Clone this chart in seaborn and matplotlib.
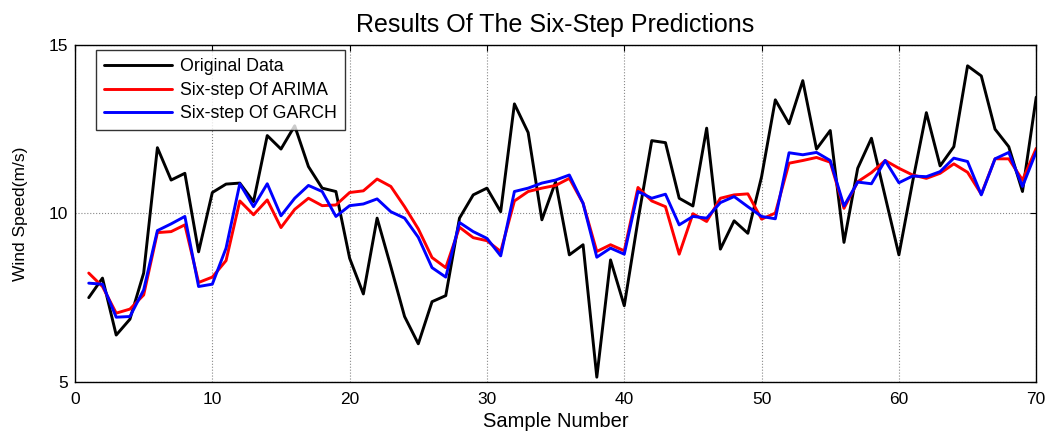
import matplotlib
matplotlib.use("Agg")
import matplotlib.pyplot as plt
import seaborn as sns
import pandas as pd
import numpy as np

samples = list(range(1, 71))
original = [7.50, 8.08, 6.39, 6.86, 8.23, 11.95, 10.99, 11.19, 8.86, 10.62,
            10.87, 10.90, 10.35, 12.31, 11.91, 12.60, 11.39, 10.75, 10.65, 8.67,
            7.61, 9.86, 8.42, 6.94, 6.13, 7.38, 7.56, 9.86, 10.55, 10.75,
            10.05, 13.25, 12.40, 9.81, 10.94, 8.77, 9.07, 5.14, 8.62, 7.26,
            9.80, 12.16, 12.10, 10.45, 10.22, 12.53, 8.94, 9.78, 9.41, 11.09,
            13.37, 12.66, 13.94, 11.91, 12.46, 9.14, 11.34, 12.23, 10.50, 8.77,
            10.94, 12.99, 11.41, 11.98, 14.38, 14.08, 12.50, 11.98, 10.65, 13.45]
arima = [8.23, 7.83, 7.04, 7.16, 7.58, 9.43, 9.46, 9.66, 7.95, 8.11,
         8.60, 10.37, 9.96, 10.40, 9.58, 10.12, 10.45, 10.23, 10.25, 10.62,
         10.67, 11.02, 10.80, 10.20, 9.54, 8.69, 8.39, 9.59, 9.28, 9.19,
         8.87, 10.37, 10.65, 10.75, 10.83, 11.04, 10.30, 8.87, 9.07, 8.89,
         10.77, 10.37, 10.20, 8.79, 9.99, 9.76, 10.45, 10.55, 10.58, 9.83,
         10.01, 11.49, 11.57, 11.66, 11.52, 10.15, 10.94, 11.21, 11.57, 11.34,
         11.14, 11.04, 11.19, 11.47, 11.22, 10.57, 11.62, 11.62, 10.99, 11.93]
garch = [7.93, 7.90, 6.92, 6.94, 7.73, 9.49, 9.69, 9.91, 7.83, 7.90,
         8.97, 10.88, 10.20, 10.88, 9.93, 10.45, 10.83, 10.65, 9.91, 10.23,
         10.28, 10.43, 10.05, 9.86, 9.29, 8.39, 8.11, 9.73, 9.46, 9.26,
         8.74, 10.65, 10.75, 10.90, 10.99, 11.14, 10.30, 8.70, 8.97, 8.79,
         10.65, 10.45, 10.57, 9.66, 9.91, 9.86, 10.32, 10.50, 10.20, 9.91,
         9.84, 11.80, 11.74, 11.81, 11.57, 10.22, 10.93, 10.88, 11.57, 10.91,
         11.11, 11.09, 11.24, 11.64, 11.54, 10.55, 11.62, 11.81, 10.80, 11.83]

series_names = ["Original Data", "Six-step Of ARIMA", "Six-step Of GARCH"]
colors = ["#000000", "#ff0000", "#0000ff"]
x_ticks = [0, 10, 20, 30, 40, 50, 60, 70]
y_ticks = [5, 10, 15]

df = pd.DataFrame({
    "Sample": samples * 3,
    "Value": original + arima + garch,
    "Series": [series_names[0]] * 70 + [series_names[1]] * 70 + [series_names[2]] * 70,
})

sns.set_style("white")
plt.rcParams["font.family"] = ["Liberation Sans", "DejaVu Sans"]
plt.rcParams["text.color"] = "black"
plt.rcParams["axes.labelcolor"] = "black"
plt.rcParams["xtick.color"] = "black"
plt.rcParams["ytick.color"] = "black"

fig = plt.figure(figsize=(10.52, 4.32), dpi=100)
ax = fig.add_axes([0.0713, 0.116, 0.9137, 0.780])

sns.lineplot(data=df, x="Sample", y="Value", hue="Series",
             palette=dict(zip(series_names, colors)), linewidth=2.1,
             ax=ax, legend=True)

ax.set_xlim(0, 70)
ax.set_ylim(5, 15)
ax.set_xticks(x_ticks)
ax.set_yticks(y_ticks)
ax.tick_params(direction="in", length=4, labelsize=12.5, top=True, right=True,
               colors="black")
ax.tick_params(axis="x", pad=7)
ax.tick_params(axis="y", pad=5)
for sp in ax.spines.values():
    sp.set_visible(True)
    sp.set_color("black")
    sp.set_linewidth(1.0)

ax.grid(True, color="#888888", linestyle=":", linewidth=0.8)

ax.set_title("Results Of The Six-Step Predictions", fontsize=18, pad=9)
ax.set_xlabel("Sample Number", fontsize=14.5, labelpad=4)
ax.set_ylabel("Wind Speed(m/s)", fontsize=12.5, labelpad=15)

leg = ax.legend(loc="upper left", bbox_to_anchor=(0.022, 0.985), fontsize=12.8,
                frameon=True, fancybox=False, handlelength=3.8,
                borderpad=0.45, labelspacing=0.38, handletextpad=0.45,
                borderaxespad=0.0)
leg.get_frame().set_edgecolor("black")
leg.get_frame().set_linewidth(1.0)
for h in leg.get_lines():
    h.set_linewidth(2.1)

fig.savefig("out.png", dpi=100)
